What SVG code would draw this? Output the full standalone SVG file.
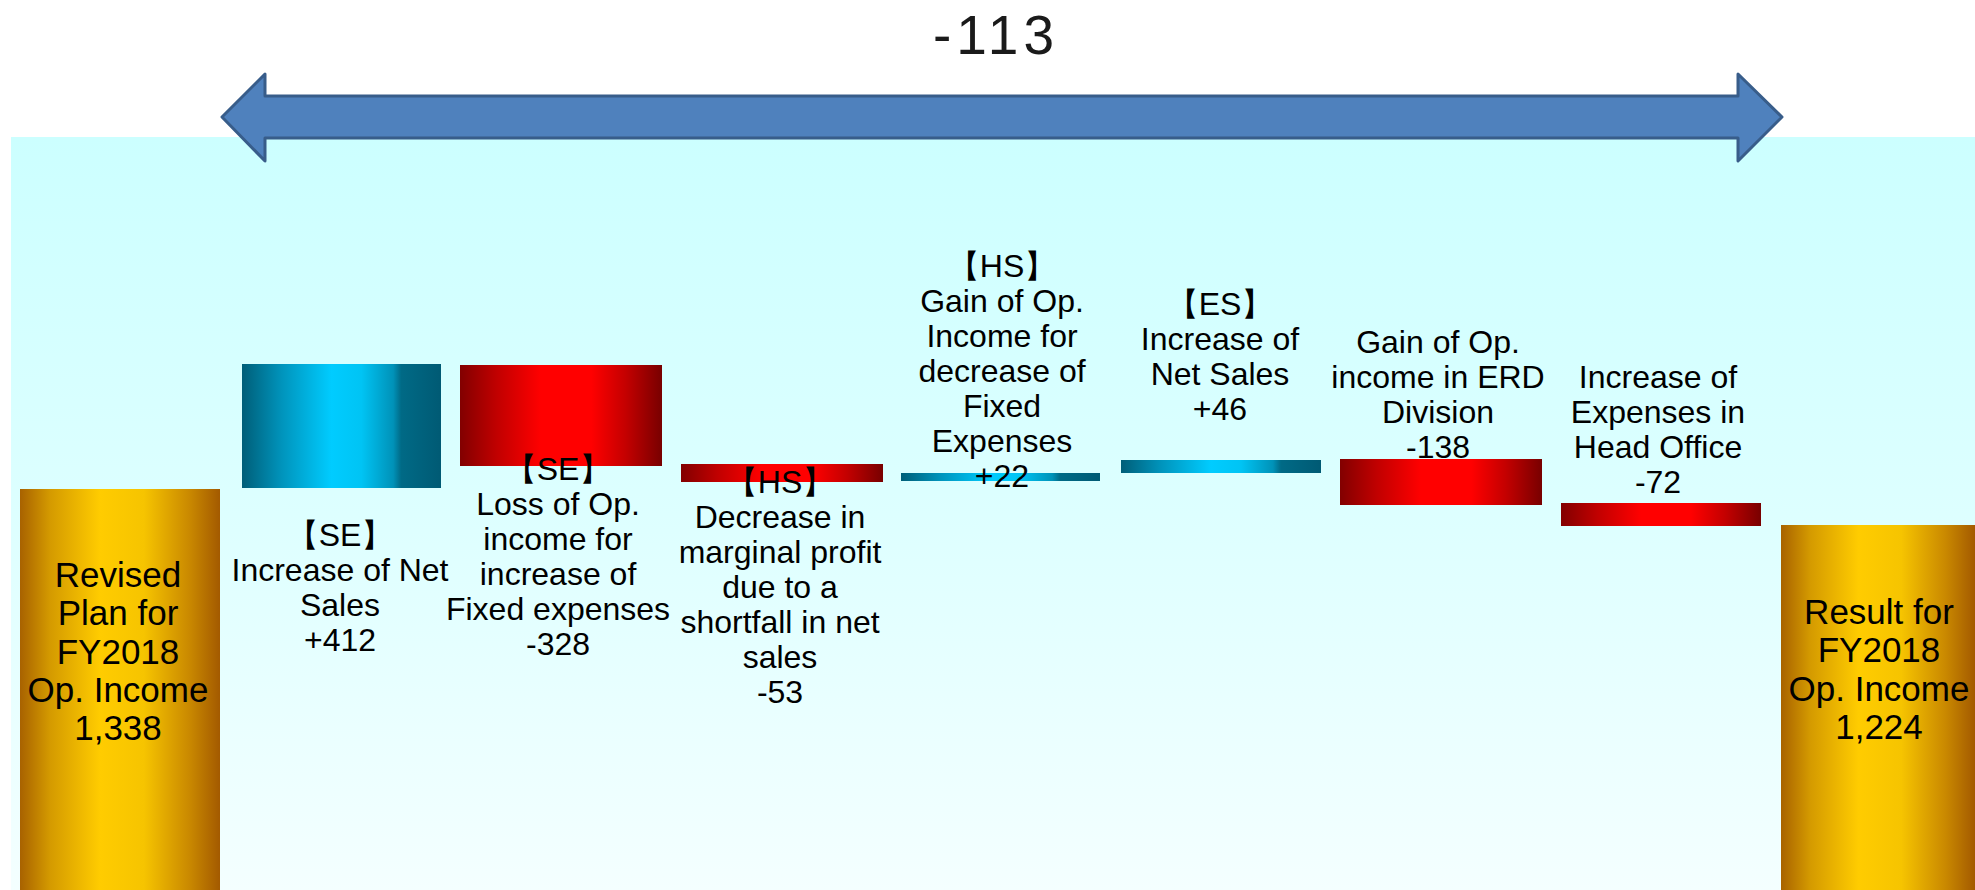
<svg xmlns="http://www.w3.org/2000/svg" width="1975" height="890" viewBox="0 0 1975 890">
<defs>
<linearGradient id="panel" x1="0" y1="0" x2="0" y2="1">
<stop offset="0" stop-color="#CCFFFF"/>
<stop offset="0.5" stop-color="#DDFFFF"/>
<stop offset="1" stop-color="#F4FFFF"/>
</linearGradient>
<linearGradient id="gold" x1="0" y1="0" x2="1" y2="0">
<stop offset="0" stop-color="#A86200"/>
<stop offset="0.15" stop-color="#D49A00"/>
<stop offset="0.4" stop-color="#FFCC00"/>
<stop offset="0.62" stop-color="#F6C400"/>
<stop offset="0.85" stop-color="#C98800"/>
<stop offset="1" stop-color="#A35A00"/>
</linearGradient>
<linearGradient id="blue" x1="0" y1="0" x2="1" y2="0">
<stop offset="0" stop-color="#005E78"/>
<stop offset="0.2" stop-color="#0094BC"/>
<stop offset="0.45" stop-color="#00CCFF"/>
<stop offset="0.6" stop-color="#00C4F4"/>
<stop offset="0.76" stop-color="#0092B8"/>
<stop offset="0.8" stop-color="#006A86"/>
<stop offset="1" stop-color="#005A74"/>
</linearGradient>
<linearGradient id="red" x1="0" y1="0" x2="1" y2="0">
<stop offset="0" stop-color="#820000"/>
<stop offset="0.18" stop-color="#C00000"/>
<stop offset="0.4" stop-color="#FF0000"/>
<stop offset="0.65" stop-color="#FF0000"/>
<stop offset="0.82" stop-color="#C40000"/>
<stop offset="1" stop-color="#780000"/>
</linearGradient>
</defs>
<style>
.lbl{font-family:"Liberation Sans",Arial,sans-serif;font-size:32px;fill:#000;text-anchor:middle}
.big{font-family:"Liberation Sans",Arial,sans-serif;font-size:35px;fill:#000;text-anchor:middle}
.title{font-family:"Liberation Sans",Arial,sans-serif;font-size:55px;fill:#1a1a1a;text-anchor:middle;letter-spacing:5px}
.gold{fill:url(#gold)}
.blue{fill:url(#blue)}
.red{fill:url(#red)}
</style>
<rect x="0" y="0" width="1975" height="890" fill="#FFFFFF"/>
<rect id="panel-bg" x="11" y="137" width="1964" height="753" fill="url(#panel)"/>

<text id="total" class="title" x="996" y="54">-113</text>

<g id="connectors">
<polygon points="222,117 265,74 265,96 1738,96 1738,74 1782,117 1738,161 1738,138 265,138 265,161" fill="#4F81BD" stroke="#385D8A" stroke-width="3" stroke-linejoin="round"/>
</g>

<g id="start">
<rect class="gold" x="20" y="489" width="200" height="401"/>
<text class="big" x="118" y="587"><tspan x="118">Revised</tspan><tspan x="118" dy="38.3">Plan for</tspan><tspan x="118" dy="38.3">FY2018</tspan><tspan x="118" dy="38.3">Op. Income</tspan><tspan x="118" dy="38.3">1,338</tspan></text>
</g>

<g id="se-sales">
<rect class="blue" x="242" y="364" width="199" height="124"/>
<text class="lbl" x="340" y="546"><tspan x="340">【SE】</tspan><tspan x="340" dy="35">Increase of Net</tspan><tspan x="340" dy="35">Sales</tspan><tspan x="340" dy="35">+412</tspan></text>
</g>

<g id="se-fixed">
<rect class="red" x="460" y="365" width="202" height="101"/>
<text class="lbl" x="558" y="480"><tspan x="558">【SE】</tspan><tspan x="558" dy="35">Loss of Op.</tspan><tspan x="558" dy="35">income for</tspan><tspan x="558" dy="35">increase of</tspan><tspan x="558" dy="35">Fixed expenses</tspan><tspan x="558" dy="35">-328</tspan></text>
</g>

<g id="hs-margin">
<rect class="red" x="681" y="464" width="202" height="18"/>
<text class="lbl" x="780" y="493"><tspan x="780">【HS】</tspan><tspan x="780" dy="35">Decrease in</tspan><tspan x="780" dy="35">marginal profit</tspan><tspan x="780" dy="35">due to a</tspan><tspan x="780" dy="35">shortfall in net</tspan><tspan x="780" dy="35">sales</tspan><tspan x="780" dy="35">-53</tspan></text>
</g>

<g id="hs-fixed">
<rect class="blue" x="901" y="473" width="199" height="8"/>
<text class="lbl" x="1002" y="277"><tspan x="1002">【HS】</tspan><tspan x="1002" dy="35">Gain of Op.</tspan><tspan x="1002" dy="35">Income for</tspan><tspan x="1002" dy="35">decrease of</tspan><tspan x="1002" dy="35">Fixed</tspan><tspan x="1002" dy="35">Expenses</tspan><tspan x="1002" dy="35">+22</tspan></text>
</g>

<g id="es-sales">
<rect class="blue" x="1121" y="460" width="200" height="13"/>
<text class="lbl" x="1220" y="315"><tspan x="1220">【ES】</tspan><tspan x="1220" dy="35">Increase of</tspan><tspan x="1220" dy="35">Net Sales</tspan><tspan x="1220" dy="35">+46</tspan></text>
</g>

<g id="erd">
<rect class="red" x="1340" y="459" width="202" height="46"/>
<text class="lbl" x="1438" y="353"><tspan x="1438">Gain of Op.</tspan><tspan x="1438" dy="35">income in ERD</tspan><tspan x="1438" dy="35">Division</tspan><tspan x="1438" dy="35">-138</tspan></text>
</g>

<g id="head-office">
<rect class="red" x="1561" y="503" width="200" height="23"/>
<text class="lbl" x="1658" y="388"><tspan x="1658">Increase of</tspan><tspan x="1658" dy="35">Expenses in</tspan><tspan x="1658" dy="35">Head Office</tspan><tspan x="1658" dy="35">-72</tspan></text>
</g>

<g id="result">
<rect class="gold" x="1781" y="525" width="194" height="365"/>
<text class="big" x="1879" y="624"><tspan x="1879">Result for</tspan><tspan x="1879" dy="38.3">FY2018</tspan><tspan x="1879" dy="38.3">Op. Income</tspan><tspan x="1879" dy="38.3">1,224</tspan></text>
</g>
</svg>
